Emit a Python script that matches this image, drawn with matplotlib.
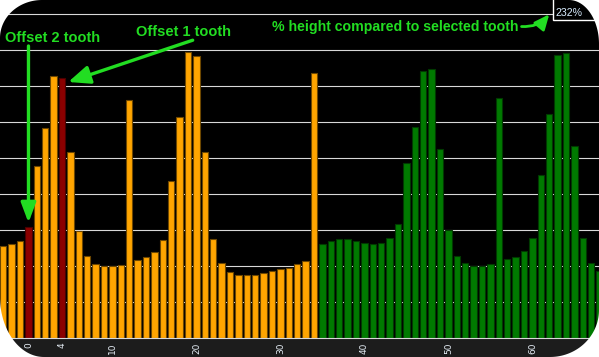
import numpy as np
import matplotlib
matplotlib.use('Agg')
from matplotlib import pyplot as plt
from matplotlib.patches import Polygon, Rectangle

# tooth index and bar height (grid line every 10 units)
teeth = list(range(-3, 69))
heights = [25.7, 26.1, 26.9, 31.0, 47.8, 58.3, 72.8, 72.2, 51.7, 29.7,
           22.8, 20.6, 20.0, 20.0, 20.3, 66.1, 21.7, 22.5, 24.0, 27.2,
           43.8, 61.4, 79.6, 78.3, 51.8, 27.5, 20.8, 18.3, 17.5, 17.5,
           17.5, 18.1, 18.7, 19.2, 19.6, 20.6, 21.4, 73.6, 26.1, 26.9,
           27.5, 27.5, 26.9, 26.4, 26.1, 26.4, 27.8, 31.7, 48.6, 58.8,
           74.2, 74.7, 52.5, 30.0, 22.8, 20.8, 20.0, 20.0, 20.6, 66.7,
           21.9, 22.5, 24.2, 27.8, 45.3, 62.2, 78.6, 79.2, 53.3, 27.8,
           20.8, 18.6]
selected = [0, 4]
second_bank_start = 35
tick_teeth = [0, 4, 10, 20, 30, 40, 50, 60]
ratio_label = '232%'

W, H = 599, 357
GREEN = '#22dd22'

colors = []
edges = []
for t in teeth:
    if t in selected:
        colors.append('#8b0000')
        edges.append('#4a0000')
    elif t >= second_bank_start:
        colors.append('#007a00')
        edges.append('#003a00')
    else:
        colors.append('#ffa500')
        edges.append('#6e4800')

fig = plt.figure(figsize=(W / 100, H / 100), dpi=100, facecolor='#1c1c1c')
ax = fig.add_axes([0, 18.7 / H, 1, 338.3 / H])
ax.set_facecolor('black')
ax.bar(teeth, heights, width=0.76, color=colors, edgecolor=edges,
       linewidth=0.8, zorder=2)
ax.set_xlim(-3.39, 67.92)
ax.set_ylim(0, 93.97)
ax.set_yticks(range(10, 100, 10))
ax.yaxis.grid(True, color='#d8d8d8', linewidth=0.8)
ax.set_axisbelow(True)
ax.set_yticklabels([])
for s in ['top', 'left', 'right']:
    ax.spines[s].set_visible(False)
ax.spines['bottom'].set_color('#d8d8d8')
ax.spines['bottom'].set_linewidth(0.8)
ax.spines['bottom'].set_zorder(3)
ax.set_xticks(tick_teeth)
ax.set_xticklabels([str(t) for t in tick_teeth], rotation=90,
                   fontsize=6.5, color='#e4ecf4', family='DejaVu Sans')
ax.tick_params(axis='both', length=0, pad=3)

# arrows
i0 = teeth.index(selected[0])
i1 = teeth.index(selected[1])
ax.annotate('', xy=(0, heights[i0] + 1.1), xytext=(0, 81.2),
            arrowprops=dict(arrowstyle='-|>,head_length=1.2,head_width=0.45',
                            color=GREEN, lw=2.4, shrinkA=0, shrinkB=0))
ax.annotate('', xy=(4.74, heights[i1] - 1.0), xytext=(19.55, 82.8),
            arrowprops=dict(arrowstyle='-|>,head_length=1.3,head_width=0.55',
                            color=GREEN, lw=2.4, shrinkA=0, shrinkB=0))
ax.annotate('', xy=(62.0, 90.0), xytext=(58.7, 86.6),
            arrowprops=dict(arrowstyle='-|>,head_length=0.9,head_width=0.4',
                            color=GREEN, lw=2.0, shrinkA=0, shrinkB=0,
                            connectionstyle='arc3,rad=0.25'))

fig.text(5 / W, 1 - 42 / H, 'Offset 2 tooth', color=GREEN, fontsize=10.5,
         fontweight='bold', family='Liberation Sans', va='baseline')
fig.text(136.5 / W, 1 - 36.5 / H, 'Offset 1 tooth', color=GREEN, fontsize=10.5,
         fontweight='bold', family='Liberation Sans', va='baseline')
fig.text(272.5 / W, 1 - 31.5 / H, '% height compared to selected tooth',
         color=GREEN, fontsize=10.2, fontweight='bold',
         family='Liberation Sans', va='baseline')

# readout box top right
fig.patches.append(Rectangle((552.5 / W, 1 - 20 / H), 60 / W, 25 / H,
                             transform=fig.transFigure, facecolor='black',
                             edgecolor='white', linewidth=1, zorder=5))
fig.text(556 / W, 1 - 16 / H, ratio_label, color='#d8ecff', fontsize=7.7,
         family='Liberation Sans', va='baseline', zorder=6)

# white rounded corners
def corner(cx, cy, rx, ry, a0, a1, px, py):
    a = np.linspace(np.radians(a0), np.radians(a1), 40)
    pts = [(px / W, py / H)]
    pts += [((cx + rx * np.cos(v)) / W, (cy + ry * np.sin(v)) / H) for v in a]
    return Polygon(pts, closed=True, transform=fig.transFigure,
                   facecolor='white', edgecolor='none', zorder=10)

fig.patches.append(corner(42, H - 38, 42, 38, 90, 180, 0, H))
fig.patches.append(corner(W - 30, H - 44, 30, 44, 0, 90, W, H))
fig.patches.append(corner(W - 49, 47, 49, 47, 270, 360, W, 0))
fig.patches.append(corner(44, 60, 44, 60, 180, 270, 0, 0))

plt.savefig('out.png', dpi=100, facecolor=fig.get_facecolor())
